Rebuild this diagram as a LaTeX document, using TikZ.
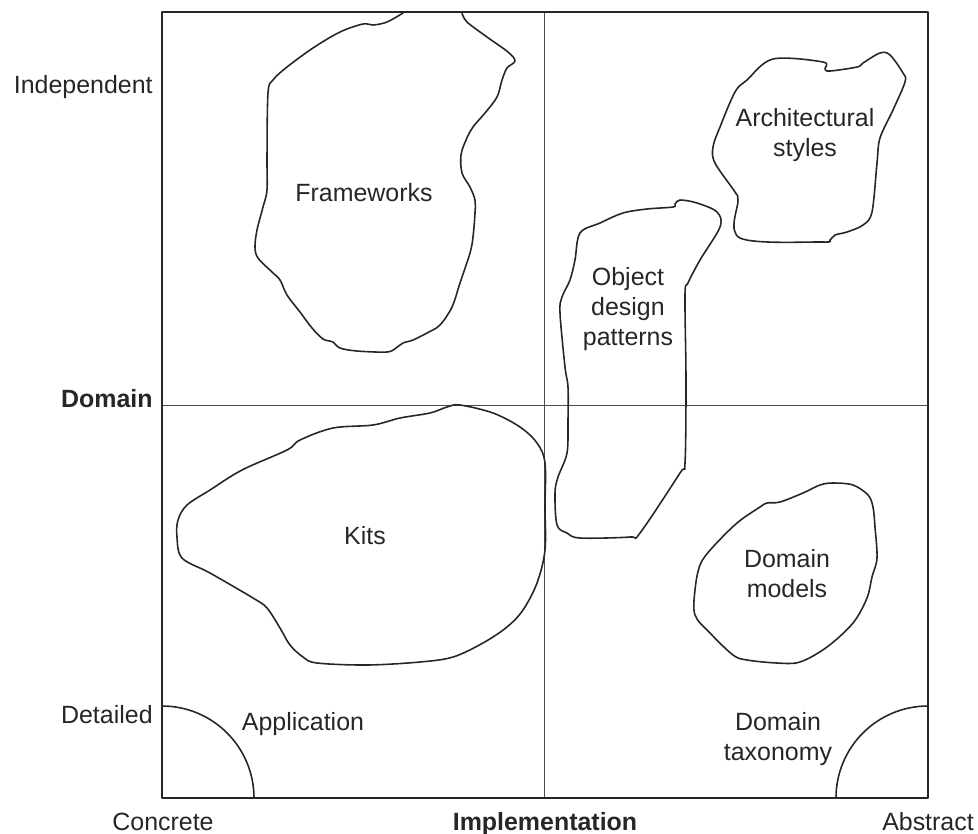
\documentclass[tikz,border=0pt]{standalone}
\usepackage{fontspec}
\setmainfont{Liberation Sans}
\begin{document}
\begin{tikzpicture}[x=0.02cm,y=-0.02cm,line cap=round,line join=round,
  lbl/.style={inner sep=0pt,text=black!85,font=\fontsize{14.2}{17.07}\selectfont},
  lblb/.style={lbl,font=\fontsize{14.2}{17.07}\selectfont\bfseries},
  blob/.style={line width=0.9pt,draw=black!85}]
  \useasboundingbox (0,0) rectangle (978,833);
  \coordinate (sw) at (162,798);
  \coordinate (ne) at (928,12);
  % quadrant lines
  \draw[line width=0.5pt,black!70] (544,12) -- (544,798);
  \draw[line width=0.5pt,black!70] (162,405) -- (928,405);
  \draw[line width=1.1pt,black!85] (sw) rectangle (ne);
  % corner arcs
  \draw[blob] (254,798) arc (0:-90:92);
  \draw[blob] (836,798) arc (180:270:92);
  % frameworks
  \draw[blob] plot[smooth,tension=0.55] coordinates {(462,13) (467,22) (487,37) (508,52) (515,61) (507,68) (502,80) (497,97) (485,113) (473,127) (466,140) (461,155) (462,173) (470,187) (475,200) (475,213) (473,237) (470,253) (460,283) (452,307) (440,325) (427,333) (413,340) (403,343) (396,348) (387,352) (357,351) (340,348) (333,342) (323,339) (312,328) (300,312) (287,295) (280,280) (272,272) (258,258) (255,247) (257,230) (263,207) (267,190) (267,157) (268,93) (273,80) (287,67) (313,48) (340,32) (363,24) (373,25) (387,22) (403,13)};
  % architectural styles
  \draw[blob] plot[smooth cycle,tension=0.55] coordinates {(773,59) (823,62) (825,69) (830,71) (857,67) (863,63) (880,53) (890,55) (903,73) (905,82) (893,110) (880,138) (877,163) (872,212) (863,225) (847,232) (835,235) (830,240) (822,242) (740,238) (738,200) (735,192) (715,163) (713,147) (720,127) (735,92) (747,80)};
  % object design patterns
  \draw[blob] plot[smooth cycle,tension=0.55] coordinates {(680,200) (697,203) (717,212) (720,227) (700,260) (688,283) (685,295) (686,380) (685,463) (680,473) (640,533) (630,537) (580,538) (567,533) (557,525) (555,493) (558,477) (567,453) (568,420) (568,387) (565,367) (560,313) (562,297) (570,280) (575,260) (580,233) (600,223) (623,213) (647,209) (673,207) (675,204)};
  % kits
  \draw[blob] plot[smooth cycle,tension=0.55] coordinates {(460,405) (493,413) (520,427) (537,443) (545,463) (545,507) (545,550) (537,583) (523,610) (507,627) (483,643) (453,657) (420,662) (367,665) (317,663) (303,657) (290,645) (280,628) (267,608) (253,598) (210,573) (182,558) (177,537) (178,520) (187,505) (210,490) (242,470) (287,450) (300,440) (333,428) (373,425) (400,418) (430,413) (447,407)};
  % domain models
  \draw[blob] plot[smooth cycle,tension=0.55] coordinates {(833,483) (853,485) (868,495) (873,507) (875,527) (877,558) (872,577) (867,598) (853,623) (827,647) (800,662) (777,663) (747,660) (733,655) (710,633) (695,615) (695,590) (700,565) (712,548) (737,523) (760,507) (767,503) (780,502) (803,493) (820,485)};
  % axis labels
  \node[lbl,anchor=base east] (indep) at (153,93) {Independent};
  \node[lblb,anchor=base east] (dom) at (153,407) {Domain};
  \node[lbl,anchor=base east] (detl) at (153,723) {Detailed};
  \node[lbl,anchor=base] (concr) at (163,830) {Concrete};
  \node[lblb,anchor=base] (impl) at (545,830) {Implementation};
  \node[lbl,anchor=base] (abstr) at (928,830) {Abstract};
  % region labels
  \node[lbl,anchor=base] (fw) at (364,201) {Frameworks};
  \node[lbl,align=center] (arch) at (805,135.5) {Architectural\\styles};
  \node[lbl,align=center] (odp) at (628,309.5) {Object\\design\\patterns};
  \node[lbl,anchor=base] (kits) at (365,544) {Kits};
  \node[lbl,align=center] (dmod) at (787,574) {Domain\\models};
  \node[lbl,anchor=base] (app) at (303,730) {Application};
  \node[lbl,align=center] (dtax) at (778,739.5) {Domain\\taxonomy};
\end{tikzpicture}
\end{document}
